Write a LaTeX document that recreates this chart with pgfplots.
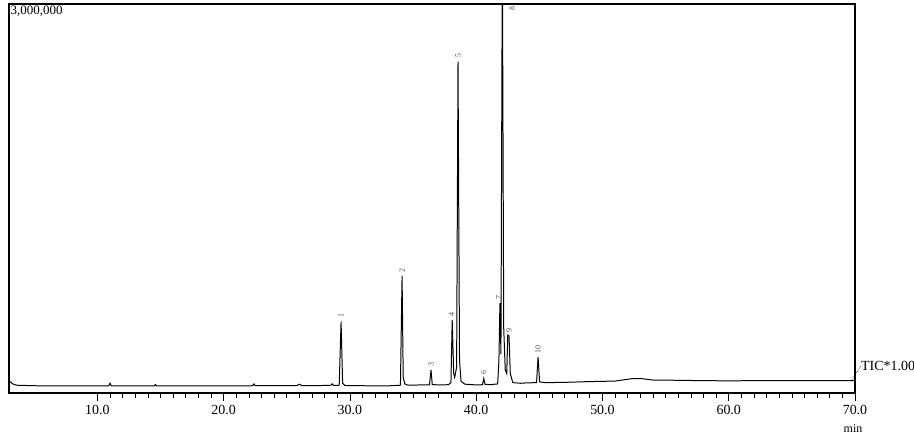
\documentclass[border=0pt]{standalone}
\usepackage{fontspec}
\setmainfont{Liberation Serif}
\usepackage{pgfplots}
\pgfplotsset{compat=1.18}
\begin{document}
\begin{tikzpicture}
\useasboundingbox (-9bp,-44bp) rectangle (905bp,393bp);
\begin{axis}[
  scale only axis, width=846bp, height=389bp,
  xmin=3, xmax=70, ymin=0, ymax=3000000,
  axis line style={black, line width=1.1pt},
  xtick={10,20,...,70}, minor x tick num=9,
  tick align=outside, xtick pos=bottom,
  major tick length=8bp, minor tick length=4.5bp,
  tick style={black, line width=0.7pt},
  ytick=\empty,
  xticklabel style={font=\fontsize{14}{14}\selectfont, yshift=-1bp},
  /pgf/number format/assume math mode=true,
  /pgf/number format/.cd, fixed, fixed zerofill, precision=1, use period, 1000 sep={},
  /tikz/.cd,
  clip=true,
]
\addplot[black, line width=1pt] coordinates {
(3.0,95000) (3.3,70000) (3.6,60000) (5,56000) (7,55000) (9,55000) (10.9,55000) (11.0,75000) (11.1,55000)
(14.5,55000) (14.6,65000) (14.7,55000) (17,55000) (19,54000) (20.5,55000) (22.3,56000) (22.4,70000) (22.5,56000)
(24,56000) (25.8,57000) (26.0,68000) (26.2,57000) (27.5,57000) (28.5,60000) (28.6,70000) (28.7,58000)
(29.15,60000) (29.3,550000) (29.42,75000) (29.6,58000) (31,56000) (33,55000) (34.0,60000) (34.13,905000)
(34.22,120000) (34.35,70000) (34.6,60000) (35.5,62000) (36.3,63000) (36.42,178000) (36.52,65000) (37,62000)
(37.8,64000) (38.0,80000) (38.1,563000) (38.22,150000) (38.3,120000) (38.45,200000) (38.56,2555000)
(38.68,250000) (38.8,90000) (39.1,68000) (40,62000) (40.5,64000) (40.6,112000) (40.7,66000) (41.2,65000)
(41.7,70000) (41.8,250000) (41.88,694000) (41.96,300000) (42.07,3400000) (42.18,500000) (42.3,180000)
(42.42,150000) (42.5,447000) (42.6,440000) (42.7,150000) (42.9,80000) (43.5,75000) (44.0,78000)
(44.78,80000) (44.9,278000) (45.02,85000) (45.5,80000) (47,82000) (49,88000) (51,92000) (52.3,110000)
(53,112000) (54,100000) (56,98000) (58,95000) (60,94000) (62,95000) (65,96000) (68,96000) (70,96000)
};
\begin{scope}[every node/.style={font=\fontsize{8}{8}\selectfont, text=black!70, rotate=90, anchor=west, inner sep=1pt}]
\node at (axis cs:29.3,570000) {1};
\node at (axis cs:34.13,920000) {2};
\node at (axis cs:36.42,195000) {3};
\node at (axis cs:38.05,580000) {4};
\node at (axis cs:38.56,2580000) {5};
\node at (axis cs:40.6,130000) {6};
\node at (axis cs:41.78,715000) {7};
\node[anchor=east] at (axis cs:42.85,2990000) {8};
\node at (axis cs:42.6,460000) {9};
\node at (axis cs:44.9,295000) {10};
\end{scope}
\node[anchor=north west, inner sep=1.5pt, font=\fontsize{13}{13}\selectfont] at (rel axis cs:0,1) {3,000,000};
\end{axis}
\draw[black, densely dotted, line width=0.6pt] (842bp,12bp) -- (852bp,27bp);
\node[anchor=west, inner sep=0pt, font=\fontsize{14}{14}\selectfont] at (852bp,27bp) {TIC*1.00};
\node[inner sep=0pt, font=\fontsize{12}{12}\selectfont] at (844bp,-36bp) {min};
\end{tikzpicture}
\end{document}
